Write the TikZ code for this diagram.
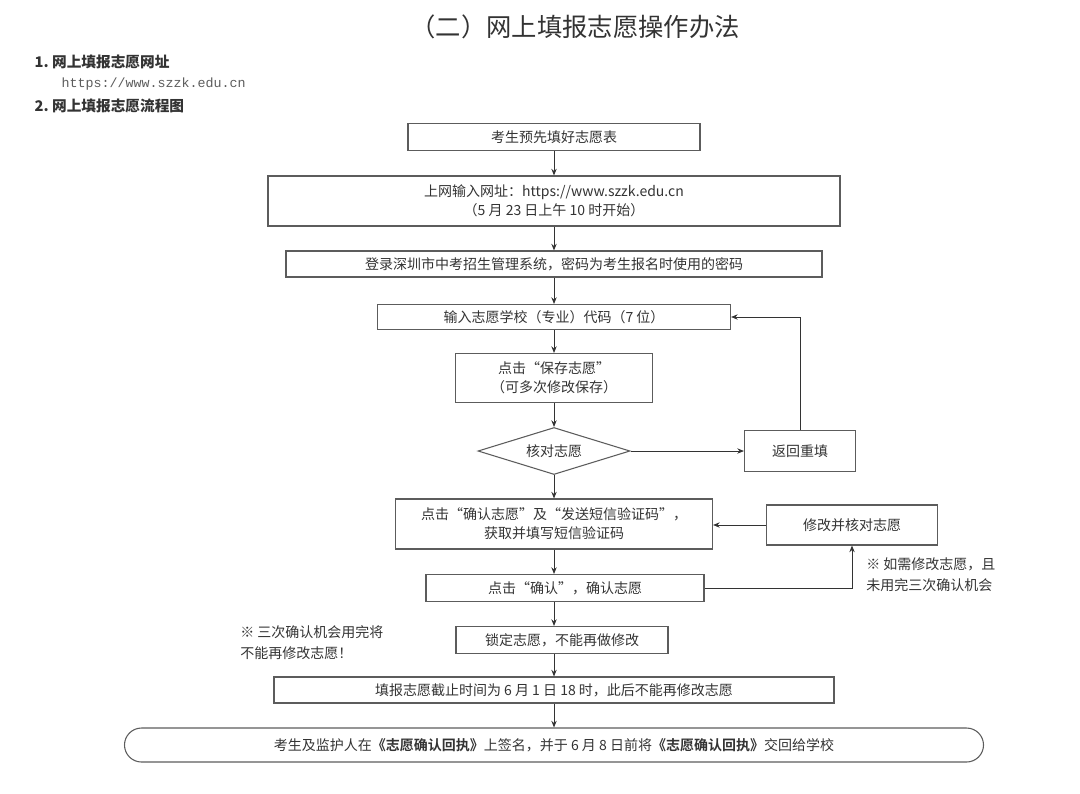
\documentclass[tikz,border=0pt]{standalone}
\usepackage{fontspec}
\setmainfont{Noto Sans CJK SC}
\newfontfamily\cjkb{Noto Sans CJK SC}[BoldFont={* Bold}]
\setmonofont{Liberation Mono}
\usetikzlibrary{shapes.geometric,arrows.meta}
\definecolor{ink}{HTML}{333333}
\begin{document}
\begin{tikzpicture}[x=0.75pt,y=-0.75pt,
  bx/.style={draw=ink!80,line width=0.8pt,text=ink,font=\fontsize{10.5}{14}\selectfont,align=center,inner sep=0pt},
  ar/.style={draw=ink,line width=0.7pt,-{Stealth[length=5pt,width=4pt]}},
  note/.style={text=ink,font=\fontsize{10.5}{16}\selectfont,align=left,anchor=north west,inner sep=0pt}]
\useasboundingbox (0,0) rectangle (1080,793);
\node[text=ink,font=\fontsize{19}{22}\selectfont] (title) at (575,27) {（二）网上填报志愿操作办法};
\node[text=ink,font=\bfseries\fontsize{11}{13}\selectfont,anchor=west] (h1) at (30,62) {1.\ 网上填报志愿网址};
\node[text=ink!80,font=\ttfamily\fontsize{10}{12}\selectfont,anchor=west] (url) at (57,84) {https://www.szzk.edu.cn};
\node[text=ink,font=\bfseries\fontsize{11}{13}\selectfont,anchor=west] (h2) at (30,106) {2.\ 网上填报志愿流程图};

\node[bx,minimum width=292*0.75pt,minimum height=27*0.75pt] (b1) at (554,137) {考生预先填好志愿表};
\node[bx,minimum width=572*0.75pt,minimum height=50*0.75pt] (b2) at (554,201) {上网输入网址：https://www.szzk.edu.cn\\（5 月 23 日上午 10 时开始）};
\node[bx,minimum width=536*0.75pt,minimum height=26*0.75pt] (b3) at (554,264) {登录深圳市中考招生管理系统，密码为考生报名时使用的密码};
\node[bx,minimum width=353*0.75pt,minimum height=25*0.75pt] (b4) at (554,317) {输入志愿学校（专业）代码（7 位）};
\node[bx,minimum width=197*0.75pt,minimum height=49*0.75pt] (b5) at (554,378) {点击“保存志愿”\\（可多次修改保存）};
\node[bx,diamond,aspect=3.3,minimum width=152*0.75pt,minimum height=47*0.75pt] (d) at (554,451) {核对志愿};
\node[bx,minimum width=111*0.75pt,minimum height=41*0.75pt] (r) at (800,451) {返回重填};
\node[bx,minimum width=317*0.75pt,minimum height=50*0.75pt] (b6) at (554,524) {点击“确认志愿”及“发送短信验证码”，\\获取并填写短信验证码};
\node[bx,minimum width=171*0.75pt,minimum height=40*0.75pt] (m) at (852,525) {修改并核对志愿};
\node[bx,minimum width=278*0.75pt,minimum height=27*0.75pt] (b7) at (565,588) {点击“确认”，确认志愿};
\node[bx,minimum width=212*0.75pt,minimum height=27*0.75pt] (b8) at (562,640) {锁定志愿，不能再做修改};
\node[bx,minimum width=560*0.75pt,minimum height=26*0.75pt] (b9) at (554,690) {填报志愿截止时间为 6 月 1 日 18 时，此后不能再修改志愿};
\node[bx,rounded corners=17*0.75pt,minimum width=859*0.75pt,minimum height=34*0.75pt] (b10) at (554,745) {考生及监护人在{\cjkb\bfseries《志愿确认回执》}上签名，并于 6 月 8 日前将{\cjkb\bfseries《志愿确认回执》}交回给学校};

\node[note] (n1) at (866,557) {※ 如需修改志愿，且\\未用完三次确认机会};
\node[note] (n2) at (240,625) {※ 三次确认机会用完将\\不能再修改志愿！};

\coordinate (c) at (554,0);
\draw[ar] (b1.south) -- (b2.north);
\draw[ar] (b2.south) -- (b3.north);
\draw[ar] (b3.south) -- (b4.north);
\draw[ar] (b4.south) -- (b5.north);
\draw[ar] (b5.south) -- (d.north);
\draw[ar] (d.east) -- (r.west);
\draw[ar] (r.north) |- (b4.east);
\draw[ar] (d.south) -- (b6.north);
\draw[ar] (m.west) -- (m.west -| b6.east);
\draw[ar] (b6.south) -- (b6.south |- b7.north);
\draw[ar] (b7.east) -| (m.south);
\draw[ar] (b6.south |- b7.south) -- (b6.south |- b8.north);
\draw[ar] (b6.south |- b8.south) -- (b9.north);
\draw[ar] (b9.south) -- (b10.north);
\end{tikzpicture}
\end{document}
